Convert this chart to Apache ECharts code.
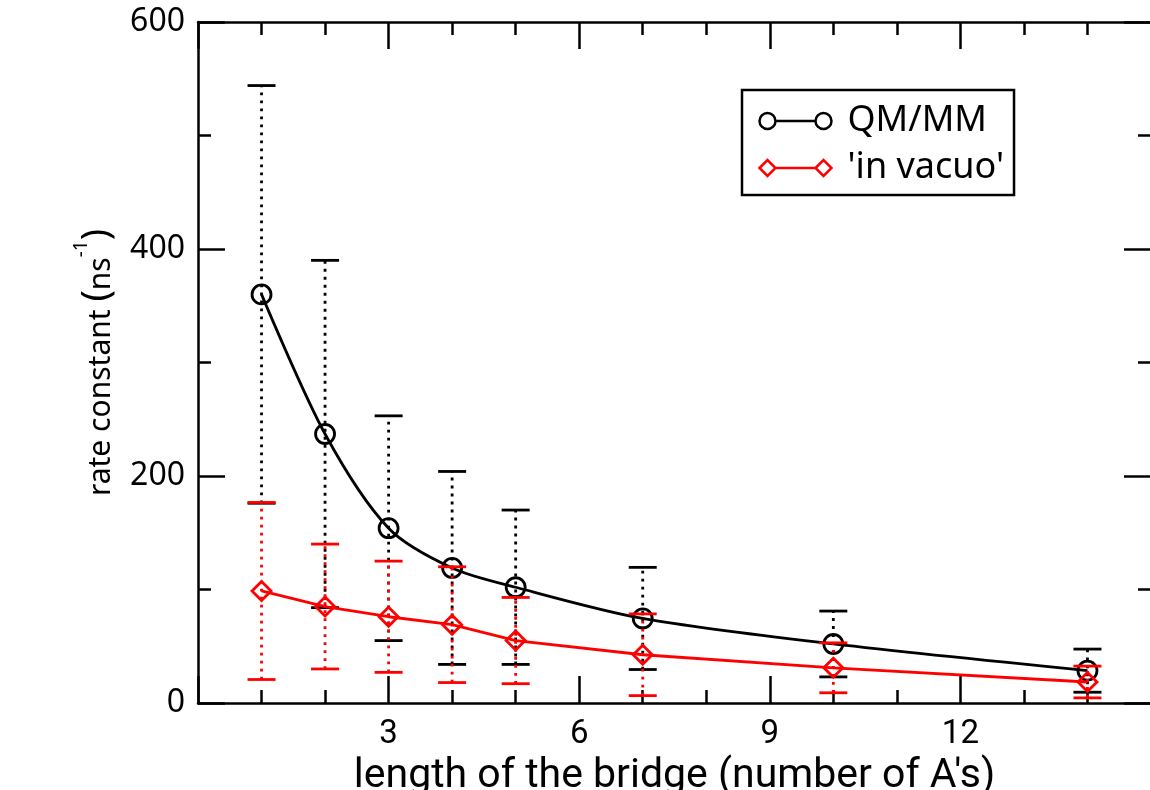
<!DOCTYPE html>
<html>
<head>
<meta charset="utf-8">
<script src="https://cdn.jsdelivr.net/npm/echarts@6/dist/echarts.min.js"></script>
<style>
html, body { margin: 0; padding: 0; background: #fff; }
#chart { width: 1150px; height: 790px; }
</style>
</head>
<body>
<div id="chart"></div>
<script>
// 数据
const bridgeLength = [1, 2, 3, 4, 5, 7, 10, 14];
const qmmmRate = [360, 237, 154, 119, 102, 74.5, 52, 28.5];
const qmmmErr = [184, 153, 99, 85, 68, 45, 29, 19];
const vacuoRate = [98.7, 85, 76, 69, 55, 42.5, 31, 18.5];
const vacuoErr = [78, 55, 49, 51, 38, 36, 22, 14];
const seriesNames = ['QM/MM', "'in vacuo'"];

// 误差棒 [x, 下限, 上限]
function errData(vals, errs) {
	return bridgeLength.map((x, i) => [x, vals[i] - errs[i], vals[i] + errs[i]]);
}

function errRender(color) {
	return function (params, api) {
		const x = api.value(0);
		const lo = api.coord([x, api.value(1)]);
		const hi = api.coord([x, api.value(2)]);
		const w = 14;
		return {
			type: 'group',
			children: [
				{ type: 'line', shape: { x1: lo[0], y1: lo[1], x2: hi[0], y2: hi[1] }, style: { stroke: color, lineWidth: 2.8, lineDash: [2.8, 5.2] } },
				{ type: 'line', shape: { x1: hi[0] - w, y1: hi[1], x2: hi[0] + w, y2: hi[1] }, style: { stroke: color, lineWidth: 2.8 } },
				{ type: 'line', shape: { x1: lo[0] - w, y1: lo[1], x2: lo[0] + w, y2: lo[1] }, style: { stroke: color, lineWidth: 2.8 } }
			]
		};
	};
}

// 图例图标 (两端各一个符号)
const circleIcon = 'path://M1,9 A8,8 0 1,1 17,9 A8,8 0 1,1 1,9 Z M17,9 L57,9 M57,9 A8,8 0 1,1 73,9 A8,8 0 1,1 57,9 Z';
const diamondIcon = 'path://M1,9 L9,1 L17,9 L9,17 Z M17,9 L57,9 M57,9 L65,1 L73,9 L65,17 Z';

const tickCommon = {
	axisLine: { show: true, onZero: false, lineStyle: { color: '#000', width: 2.5 } },
	axisTick: { show: true, inside: true, length: 27, lineStyle: { color: '#000', width: 2.5 } },
	minorTick: { show: true, length: 13, lineStyle: { color: '#000', width: 2.5 } },
	splitLine: { show: false },
	minorSplitLine: { show: false }
};

const chart = echarts.init(document.getElementById('chart'));
const option = {
	backgroundColor: '#fff',
	animation: false,
	grid: { left: 198, top: 22, width: 953, height: 681, containLabel: false, outerBoundsMode: 'none' },
	legend: {
		orient: 'vertical',
		left: 742,
		top: 90,
		padding: [13, 10, 9, 15],
		itemGap: 11,
		itemWidth: 72,
		itemHeight: 17,
		borderColor: '#000',
		borderWidth: 2.5,
		textStyle: { fontFamily: 'Noto Sans', fontSize: 36, color: '#000', padding: [0, 0, 0, 11] },
		data: [
			{ name: seriesNames[0], icon: circleIcon, itemStyle: { color: 'none', borderColor: '#000', borderWidth: 2.5 } },
			{ name: seriesNames[1], icon: diamondIcon, itemStyle: { color: 'none', borderColor: '#ff0000', borderWidth: 2.5 } }
		]
	},
	xAxis: [
		Object.assign({}, tickCommon, {
			type: 'value',
			position: 'bottom',
			min: 0,
			max: 15,
			interval: 3,
			minorTick: Object.assign({}, tickCommon.minorTick, { splitNumber: 3 }),
			axisLabel: {
				color: '#000',
				fontFamily: 'Roboto',
				fontSize: 33,
				margin: 15,
				formatter: (v) => (v === 0 || v === 15 ? '' : String(v))
			},
			name: "length of the bridge (number of A's)",
			nameLocation: 'middle',
			nameGap: 50,
			nameTextStyle: { color: '#000', fontFamily: 'Roboto', fontSize: 41, verticalAlign: 'top' }
		}),
		Object.assign({}, tickCommon, {
			type: 'value',
			position: 'top',
			min: 0,
			max: 15,
			interval: 3,
			minorTick: Object.assign({}, tickCommon.minorTick, { splitNumber: 3 }),
			axisLabel: { show: false }
		})
	],
	yAxis: [
		Object.assign({}, tickCommon, {
			type: 'value',
			position: 'left',
			min: 0,
			max: 600,
			interval: 200,
			minorTick: Object.assign({}, tickCommon.minorTick, { splitNumber: 2 }),
			axisLabel: { color: '#000', fontFamily: 'Noto Sans', fontSize: 32, margin: 13 },
			name: '{a|rate constant }{p|(}{a|ns}{s|-1}{p|)}',
			nameLocation: 'middle',
			nameGap: 82,
			nameTextStyle: {
				color: '#000',
				rich: {
					a: { fontFamily: 'Noto Sans', fontSize: 30, color: '#000', lineHeight: 44, verticalAlign: 'bottom' },
					p: { fontFamily: 'Noto Sans', fontSize: 38, color: '#000', lineHeight: 44, verticalAlign: 'bottom' },
					s: { fontFamily: 'Noto Sans', fontSize: 19, color: '#000', lineHeight: 44, verticalAlign: 'top' }
				}
			}
		}),
		Object.assign({}, tickCommon, {
			type: 'value',
			position: 'right',
			min: 0,
			max: 600,
			interval: 200,
			minorTick: Object.assign({}, tickCommon.minorTick, { splitNumber: 2 }),
			axisLabel: { show: false }
		})
	],
	series: [
		{
			type: 'custom',
			name: seriesNames[0] + ' err',
			renderItem: errRender('#000'),
			data: errData(qmmmRate, qmmmErr),
			encode: { x: 0, y: [1, 2] },
			z: 1,
			silent: true
		},
		{
			type: 'line',
			name: seriesNames[0],
			data: bridgeLength.map((x, i) => [x, qmmmRate[i]]),
			smooth: 0.3,
			symbol: 'circle',
			symbolSize: 19,
			lineStyle: { color: '#000', width: 2.8 },
			itemStyle: { color: 'rgba(0,0,0,0)', borderColor: '#000', borderWidth: 2.8 },
			z: 2
		},
		{
			type: 'custom',
			name: seriesNames[1] + ' err',
			renderItem: errRender('#ff0000'),
			data: errData(vacuoRate, vacuoErr),
			encode: { x: 0, y: [1, 2] },
			z: 3,
			silent: true
		},
		{
			type: 'line',
			name: seriesNames[1],
			data: bridgeLength.map((x, i) => [x, vacuoRate[i]]),
			symbol: 'diamond',
			symbolSize: 19,
			lineStyle: { color: '#ff0000', width: 2.8 },
			itemStyle: { color: 'rgba(0,0,0,0)', borderColor: '#ff0000', borderWidth: 2.8 },
			z: 4
		}
	]
};
chart.setOption(option);
</script>
</body>
</html>
